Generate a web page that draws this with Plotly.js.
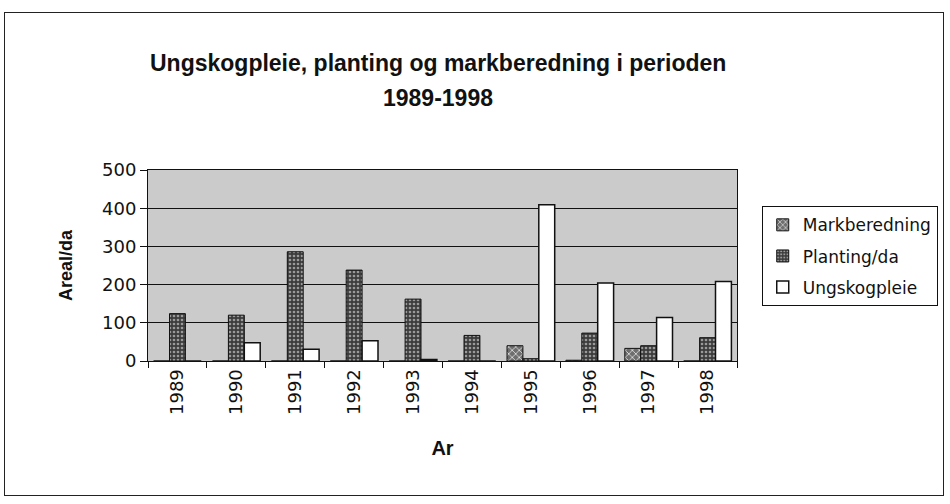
<!DOCTYPE html>
<html>
<head>
<meta charset="utf-8">
<script src="https://cdn.plot.ly/plotly-3.0.1.min.js"></script>
<style>
  html, body { margin: 0; padding: 0; background: #fff; }
  #frame { position: absolute; left: 4px; top: 12px; width: 940px; height: 484px; border: 1px solid #222; box-sizing: border-box; }
  #chart { position: absolute; left: 0; top: 0; width: 950px; height: 504px; }
</style>
</head>
<body>
<div id="frame"></div>
<div id="chart"></div>
<script>
const years = ['1989','1990','1991','1992','1993','1994','1995','1996','1997','1998'];
const markberedning = [0, 0, 0, 0, 0, 0, 40, 2, 33, 0];
const planting = [124, 120, 286, 238, 162, 67, 6, 73, 40, 61];
const ungskogpleie = [0, 48, 31, 53, 4, 0, 409, 204, 114, 208];
const seriesNames = ['Markberedning', 'Planting/da', 'Ungskogpleie'];
const yTicks = [0, 100, 200, 300, 400, 500];
const titleLines = ['Ungskogpleie, planting og markberedning i perioden', '1989-1998'];

const font = 'Liberation Sans, Arial, sans-serif';
const wide = 'DejaVu Sans, sans-serif';

const traces = [
  {
    type: 'bar', name: seriesNames[0], x: years, y: markberedning, legendgroup: 'a',
    marker: { color: '#6e6e6e', line: { color: '#111', width: 1 },
      pattern: { shape: 'x', fgcolor: '#e0e0e0', bgcolor: '#6e6e6e', size: 5, solidity: 0.3 } }
  },
  {
    type: 'bar', name: seriesNames[1], x: years, y: planting, legendgroup: 'b',
    marker: { color: '#3c3c3c', line: { color: '#111', width: 1 },
      pattern: { shape: '.', fgcolor: '#9a9a9a', bgcolor: '#3c3c3c', size: 4, solidity: 0.35 } }
  },
  {
    type: 'bar', name: seriesNames[2], x: years, y: ungskogpleie, legendgroup: 'c',
    marker: { color: '#ffffff', line: { color: '#111', width: 1.5 } }
  }
];

const layout = {
  width: 950, height: 504,
  paper_bgcolor: 'rgba(0,0,0,0)',
  plot_bgcolor: '#cbcbcb',
  margin: { l: 148, r: 213, t: 170, b: 143 },
  barmode: 'group',
  bargap: 0.19,
  bargroupgap: 0,
  font: { family: font, color: '#111' },
  annotations: [
    { text: '<b>' + titleLines[0] + '</b>', xref: 'paper', yref: 'paper',
      x: 0.493, y: 1.0 + (170 - 63) / 191, xanchor: 'center', yanchor: 'middle',
      showarrow: false, font: { size: 23, family: font, color: '#111' } },
    { text: '<b>' + titleLines[1] + '</b>', xref: 'paper', yref: 'paper',
      x: 0.493, y: 1.0 + (170 - 98) / 191, xanchor: 'center', yanchor: 'middle',
      showarrow: false, font: { size: 23, family: font, color: '#111' } }
  ],
  xaxis: {
    type: 'category',
    tickangle: -90,
    tickson: 'boundaries',
    ticks: 'outside', ticklen: 6, tickcolor: '#111',
    showline: true, linecolor: '#111', linewidth: 1, mirror: true,
    tickfont: { size: 18, family: wide },
    title: { text: '<b>Ar</b>', font: { size: 20, family: font }, standoff: 26 }
  },
  yaxis: {
    range: [0, 500],
    tickvals: yTicks,
    ticks: 'outside', ticklen: 7, tickcolor: '#111',
    showline: true, linecolor: '#111', linewidth: 1, mirror: true,
    showgrid: true, gridcolor: '#111', gridwidth: 1.3,
    zeroline: false,
    tickfont: { size: 18, family: wide },
    title: { text: '<b>Areal/da</b>', font: { size: 18, family: font }, standoff: 24 }
  },
  legend: {
    x: 1.042, xanchor: 'left', y: 0.81, yanchor: 'top',
    bgcolor: '#ffffff', bordercolor: '#111', borderwidth: 1,
    font: { size: 17, family: wide },
    traceorder: 'grouped',
    tracegroupgap: 6,
    itemwidth: 30
  },
  showlegend: true
};

Plotly.newPlot('chart', traces, layout, { displayModeBar: false, staticPlot: true });
</script>
</body>
</html>
